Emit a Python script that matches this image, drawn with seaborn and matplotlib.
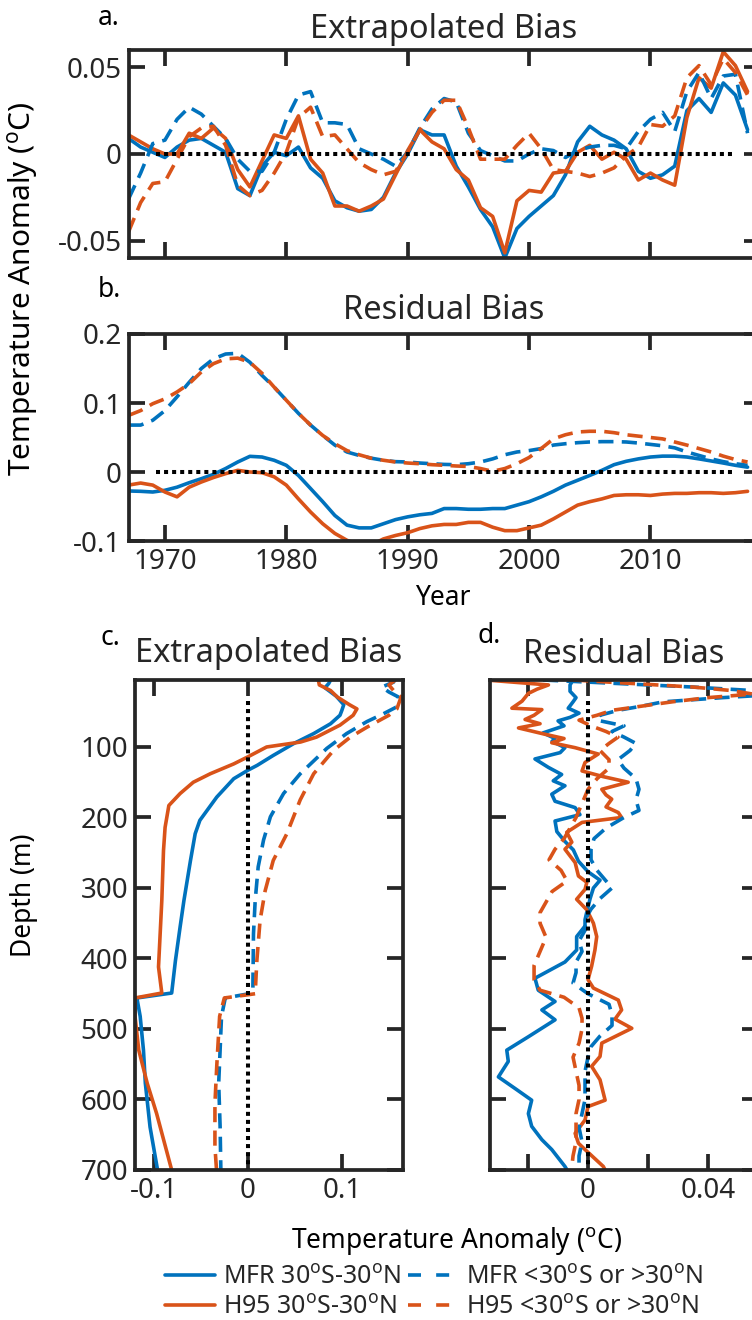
import numpy as np
import pandas as pd
import matplotlib
matplotlib.use("Agg")
import matplotlib.pyplot as plt
from matplotlib.lines import Line2D
import seaborn as sns

# ---------------- data ----------------
years = list(range(1967, 2019))

# a. Extrapolated bias, time series (degC)
ext_mfr_trop = [0.009, 0.004, 0.001, -0.002, 0.004, 0.008, 0.009, 0.005, 0.001, -0.020,
                -0.024, -0.007, 0.001, -0.001, 0.004, -0.008, -0.014, -0.027, -0.031, -0.033,
                -0.032, -0.025, -0.011, 0.000, 0.014, 0.011, 0.011, -0.007, -0.019, -0.032,
                -0.042, -0.060, -0.043, -0.036, -0.030, -0.024, -0.012, 0.007, 0.016, 0.011,
                0.008, 0.003, -0.010, -0.014, -0.012, -0.007, 0.025, 0.032, 0.024, 0.041,
                0.034, 0.014]
ext_h95_trop = [0.011, 0.007, 0.003, 0.000, 0.000, 0.012, 0.009, 0.015, 0.009, -0.009,
                -0.019, -0.004, 0.011, 0.009, 0.022, -0.003, -0.011, -0.030, -0.030, -0.033,
                -0.030, -0.026, -0.012, 0.002, 0.014, 0.007, 0.003, -0.009, -0.015, -0.031,
                -0.036, -0.057, -0.027, -0.021, -0.022, -0.011, -0.010, 0.001, 0.005, -0.003,
                0.001, -0.003, -0.015, -0.011, -0.015, -0.018, 0.021, 0.044, 0.038, 0.059,
                0.051, 0.036]
ext_mfr_extra = [-0.026, -0.011, 0.006, 0.008, 0.020, 0.027, 0.023, 0.016, 0.009, -0.003,
                 -0.010, -0.010, 0.001, 0.020, 0.034, 0.036, 0.018, 0.018, 0.017, 0.003,
                 0.000, -0.003, -0.007, 0.001, 0.015, 0.026, 0.032, 0.030, 0.012, 0.002,
                 -0.001, -0.004, -0.004, 0.000, 0.003, 0.002, -0.002, 0.002, 0.004, 0.005,
                 0.005, 0.003, 0.013, 0.020, 0.024, 0.013, 0.036, 0.047, 0.032, 0.045,
                 0.046, 0.012]
ext_h95_extra = [-0.045, -0.028, -0.017, -0.016, -0.003, 0.010, 0.015, 0.016, 0.005, -0.018,
                 -0.024, -0.021, -0.011, 0.001, 0.021, 0.027, 0.010, 0.011, 0.003, -0.005,
                 -0.009, -0.012, -0.010, 0.001, 0.014, 0.024, 0.031, 0.031, 0.015, -0.003,
                 -0.003, -0.003, 0.005, 0.012, 0.003, -0.009, -0.010, -0.011, -0.013, -0.011,
                 -0.008, -0.001, 0.004, 0.017, 0.016, 0.022, 0.044, 0.051, 0.040, 0.055,
                 0.047, 0.034]

# b. Residual bias, time series (degC)
res_mfr_trop = [-0.0275, -0.028, -0.029, -0.0265, -0.022, -0.0155, -0.0097, -0.0034, 0.005, 0.0145,
                0.0227, 0.0217, 0.017, 0.0097, -0.005, -0.024, -0.043, -0.063, -0.077, -0.081,
                -0.081, -0.075, -0.069, -0.065, -0.062, -0.060, -0.053, -0.053, -0.054, -0.054,
                -0.053, -0.053, -0.048, -0.043, -0.036, -0.028, -0.019, -0.012, -0.005, 0.0024,
                0.0106, 0.0155, 0.019, 0.0217, 0.023, 0.023, 0.0217, 0.019, 0.016, 0.013,
                0.0097, 0.007]
res_h95_trop = [-0.019, -0.016, -0.019, -0.029, -0.036, -0.022, -0.0145, -0.008, -0.0024, 0.0024,
                0.000, -0.001, -0.007, -0.019, -0.039, -0.058, -0.075, -0.089, -0.099, -0.106,
                -0.106, -0.097, -0.092, -0.088, -0.082, -0.078, -0.076, -0.076, -0.073, -0.073,
                -0.080, -0.085, -0.085, -0.081, -0.077, -0.068, -0.058, -0.048, -0.043, -0.039,
                -0.034, -0.033, -0.033, -0.034, -0.032, -0.031, -0.031, -0.030, -0.030, -0.031,
                -0.030, -0.028]
res_mfr_extra = [0.068, 0.068, 0.075, 0.089, 0.109, 0.130, 0.150, 0.164, 0.171, 0.172,
                 0.159, 0.140, 0.123, 0.104, 0.085, 0.068, 0.053, 0.039, 0.029, 0.024,
                 0.020, 0.017, 0.015, 0.0145, 0.013, 0.012, 0.011, 0.0106, 0.012, 0.0145,
                 0.019, 0.025, 0.029, 0.031, 0.034, 0.039, 0.041, 0.0425, 0.0435, 0.044,
                 0.044, 0.0435, 0.042, 0.040, 0.038, 0.035, 0.029, 0.024, 0.019, 0.015,
                 0.012, 0.0097]
res_h95_extra = [0.082, 0.089, 0.099, 0.106, 0.116, 0.128, 0.145, 0.157, 0.164, 0.165,
                 0.159, 0.143, 0.123, 0.104, 0.085, 0.068, 0.053, 0.041, 0.031, 0.025,
                 0.020, 0.017, 0.0145, 0.013, 0.012, 0.0106, 0.0097, 0.0087, 0.008, 0.005,
                 0.001, 0.005, 0.012, 0.021, 0.034, 0.048, 0.054, 0.058, 0.059, 0.059,
                 0.057, 0.054, 0.052, 0.050, 0.048, 0.0435, 0.039, 0.034, 0.029, 0.023,
                 0.018, 0.0145]

# c. Extrapolated bias, depth profiles (depth m, degC)
cz_mfr_trop = [5, 10, 16, 28, 40, 48, 55, 67, 81, 95, 112, 126, 133, 145, 171, 204, 223, 261,
               318, 355, 403, 449, 456, 482, 530, 577, 639, 700]
cv_mfr_trop = [0.088, 0.086, 0.082, 0.094, 0.102, 0.100, 0.098, 0.088, 0.070, 0.049, 0.027,
               0.010, 0.000, -0.015, -0.033, -0.051, -0.056, -0.061, -0.068, -0.072, -0.077,
               -0.081, -0.118, -0.1145, -0.111, -0.109, -0.104, -0.096]
cz_h95_trop = [5, 12, 20, 29, 40, 46, 55, 69, 86, 93, 100, 114, 124, 138, 150, 166, 183, 214,
               247, 318, 412, 449, 456, 482, 530, 577, 620, 700]
cv_h95_trop = [0.075, 0.076, 0.088, 0.095, 0.108, 0.116, 0.112, 0.098, 0.073, 0.056, 0.020,
               0.000, -0.015, -0.040, -0.058, -0.072, -0.084, -0.088, -0.0897, -0.0915, -0.095,
               -0.0915, -0.120, -0.120, -0.116, -0.107, -0.097, -0.081]
cz_mfr_extra = [5, 8, 15, 22, 29, 43, 53, 64, 81, 102, 138, 166, 199, 232, 270, 318, 365, 449,
                456, 482, 530, 577, 638, 700]
cv_mfr_extra = [0.150, 0.155, 0.1425, 0.150, 0.160, 0.1585, 0.144, 0.1266, 0.105, 0.084,
                0.0557, 0.038, 0.024, 0.0167, 0.011, 0.0078, 0.006, 0.0053, -0.024, -0.028,
                -0.0295, -0.031, -0.0295, -0.0287]
cz_h95_extra = [5, 12, 20, 29, 46, 55, 72, 86, 105, 138, 175, 223, 261, 304, 346, 403, 450,
                456, 482, 551, 606, 667, 700]
cv_h95_extra = [0.157, 0.150, 0.155, 0.163, 0.1585, 0.150, 0.1266, 0.109, 0.091, 0.070,
                0.0557, 0.0415, 0.027, 0.0184, 0.013, 0.0096, 0.0078, -0.025, -0.030, -0.033,
                -0.035, -0.035, -0.0333]

# d. Residual bias, depth profiles (depth m, degC)
dz_mfr_trop = [5, 12, 21, 30, 36, 45, 52, 58, 63, 70, 80, 88, 92, 101, 108, 117, 129, 139, 148,
               155, 167, 177, 186, 196, 205, 220, 234, 246, 262, 277, 289, 300, 315, 334, 345,
               354, 369, 388, 405, 428, 445, 461, 473, 487, 511, 530, 546, 568, 586, 601, 620,
               638, 657, 671, 695, 700]
dv_mfr_trop = [-0.005, -0.006, -0.006, -0.004, -0.005, -0.0066, -0.003, -0.006, -0.010, -0.008,
               -0.015, -0.011, -0.012, -0.0077, -0.0093, -0.0177, -0.0132, -0.0088, -0.0116,
               -0.0077, -0.0121, -0.011, -0.0043, -0.0027, -0.011, -0.0104, -0.0077, -0.0049,
               -0.0032, 0.000, 0.004, 0.0018, 0.0007, -0.0004, -0.001, -0.001, -0.0038, -0.0038,
               -0.0077, -0.0177, -0.0166, -0.011, -0.0154, -0.011, -0.0199, -0.0271, -0.0266,
               -0.0299, -0.0238, -0.0188, -0.0199, -0.0188, -0.0154, -0.0121, -0.0077, -0.007]
dz_h95_trop = [5, 12, 18, 24, 35, 45, 47, 55, 61, 67, 73, 82, 88, 94, 101, 110, 122, 134, 142,
               150, 160, 168, 174, 185, 193, 200, 207, 221, 235, 245, 264, 283, 292, 302, 316,
               331, 350, 369, 388, 411, 430, 442, 459, 473, 486, 499, 520, 539, 553, 572, 601,
               610, 629, 648, 662, 671, 695, 700]
dv_h95_trop = [-0.034, -0.0132, -0.017, -0.0199, -0.022, -0.0254, -0.0154, -0.018, -0.021,
               -0.016, -0.0232, -0.0143, -0.008, -0.0121, -0.0043, 0.0034, -0.001, -0.002, 0.005,
               0.0134, 0.0046, 0.006, 0.0079, 0.006, 0.0101, 0.0112, -0.002, -0.0071, -0.0054,
               -0.0077, -0.0043, -0.0032, -0.0004, -0.001, -0.0038, -0.0004, 0.0018, 0.0029,
               0.0023, 0.0012, 0.000, 0.0018, 0.0101, 0.0112, 0.009, 0.0146, 0.0046, 0.004,
               0.0012, 0.004, 0.0057, 0.000, -0.001, -0.0043, -0.0032, -0.001, 0.0051, 0.0057]
dz_mfr_extra = [5, 10, 15, 20, 25, 30, 36, 42, 48, 55, 62, 70, 78, 86, 95, 105, 118, 130, 145,
                160, 175, 190, 200, 215, 230, 245, 260, 275, 290, 300, 315, 330, 345, 360, 375,
                390, 405, 420, 435, 450, 465, 480, 495, 510, 525, 540, 560, 580, 600, 620, 640,
                660, 680, 700]
dv_mfr_extra = [-0.015, 0.010, 0.035, 0.055, 0.065, 0.045, 0.025, 0.018, 0.010, 0.004, 0.003,
                0.012, 0.008, 0.012, 0.016, 0.014, 0.010, 0.012, 0.016, 0.017, 0.016, 0.017,
                0.012, 0.006, 0.002, 0.001, 0.001, 0.003, 0.006, 0.008, 0.004, 0.001, -0.001,
                -0.001, -0.003, -0.002, -0.004, -0.004, -0.005, 0.000, 0.007, 0.008, 0.008,
                0.004, 0.001, 0.000, -0.001, -0.001, -0.001, -0.002, -0.003, -0.002, -0.003,
                -0.003]
dz_h95_extra = [5, 10, 15, 20, 25, 30, 36, 42, 48, 55, 62, 70, 78, 86, 95, 105, 118, 130, 145,
                160, 180, 200, 215, 230, 245, 260, 275, 290, 305, 320, 335, 350, 370, 390, 410,
                430, 445, 455, 470, 485, 500, 520, 540, 560, 580, 600, 620, 640, 660, 680, 700]
dv_h95_extra = [-0.005, 0.015, 0.035, 0.048, 0.055, 0.040, 0.028, 0.018, 0.008, 0.003, -0.003,
                0.001, 0.006, 0.010, 0.007, 0.004, 0.007, 0.007, 0.003, 0.000, -0.002, -0.004,
                -0.006, -0.008, -0.011, -0.013, -0.009, -0.007, -0.012, -0.014, -0.016, -0.016,
                -0.014, -0.016, -0.018, -0.018, -0.016, -0.008, -0.003, -0.002, -0.002, -0.003,
                -0.005, -0.004, -0.003, -0.003, -0.004, -0.004, -0.004, -0.005, -0.0055]

series_labels = ["MFR 30$^{\\rm o}$S-30$^{\\rm o}$N",
                 "H95 30$^{\\rm o}$S-30$^{\\rm o}$N",
                 "MFR <30$^{\\rm o}$S or >30$^{\\rm o}$N",
                 "H95 <30$^{\\rm o}$S or >30$^{\\rm o}$N"]

# ---------------- style ----------------
sns.set_theme(style="white")
plt.rcParams["font.family"] = ["Noto Sans", "DejaVu Sans"]
plt.rcParams["mathtext.fontset"] = "custom"
plt.rcParams["mathtext.rm"] = "Noto Sans"
plt.rcParams["mathtext.it"] = "Noto Sans:italic"
plt.rcParams["mathtext.bf"] = "Noto Sans:bold"
plt.rcParams["axes.unicode_minus"] = False

BLUE = "#0072BD"
ORANGE = "#D95319"
FRAME = "#262626"
LW = 2.6
DASH = (0, (4.2, 2.3))
LEGEND_DASH = (0, (3.6, 4.2))
DOT = (0, (1.0, 1.0))

fig = plt.figure(figsize=(7.52, 13.2), dpi=100)
W, H = 752.0, 1320.0


def px_axes(left, top, right, bottom):
    return fig.add_axes([left / W, 1 - bottom / H, (right - left) / W, (bottom - top) / H])


def style_axes(ax):
    for s in ax.spines.values():
        s.set_visible(True)
        s.set_color(FRAME)
        s.set_linewidth(2.7)
    ax.tick_params(direction="in", length=11.5, width=2.7, color=FRAME,
                   top=True, right=True, bottom=True, left=True,
                   labelsize=20, labelcolor=FRAME, pad=5)
    ax.grid(False)
    ax.set_xlabel("")
    ax.set_ylabel("")


def time_panel(ax, s1, s2, s3, s4):
    df = pd.DataFrame({"year": years, "s1": s1, "s2": s2, "s3": s3, "s4": s4})
    sns.lineplot(data=df, x="year", y="s1", ax=ax, color=BLUE, lw=LW)
    sns.lineplot(data=df, x="year", y="s2", ax=ax, color=ORANGE, lw=LW)
    sns.lineplot(data=df, x="year", y="s3", ax=ax, color=BLUE, lw=LW, linestyle=DASH)
    sns.lineplot(data=df, x="year", y="s4", ax=ax, color=ORANGE, lw=LW, linestyle=DASH)
    ax.plot([1969.3, 2016.8], [0, 0], color="black", lw=2.9, linestyle=DOT)
    ax.set_xlim(1967, 2019)
    ax.set_xticks([1970, 1980, 1990, 2000, 2010])


def depth_panel(ax, profiles):
    for z, v, col, ls in profiles:
        df = pd.DataFrame({"depth": z, "val": v})
        sns.lineplot(data=df, x="val", y="depth", ax=ax, color=col, lw=LW,
                     linestyle=ls, sort=False, estimator=None, orient="y")
    ax.plot([0, 0], [35, 700], color="black", lw=2.9, linestyle=DOT)
    ax.set_ylim(700, 5)
    ax.set_yticks([100, 200, 300, 400, 500, 600, 700])


# a. Extrapolated bias (time)
ax_a = px_axes(128.5, 50, 759.7, 258)
time_panel(ax_a, ext_mfr_trop, ext_h95_trop, ext_mfr_extra, ext_h95_extra)
ax_a.set_ylim(-0.06, 0.06)
ax_a.set_yticks([-0.05, 0, 0.05], ["-0.05", "0", "0.05"])
style_axes(ax_a)
ax_a.tick_params(labelbottom=False)
ax_a.set_title("Extrapolated Bias", fontsize=23.5, pad=9)

# b. Residual bias (time)
ax_b = px_axes(128.5, 334, 759.7, 541)
time_panel(ax_b, res_mfr_trop, res_h95_trop, res_mfr_extra, res_h95_extra)
ax_b.set_ylim(-0.1, 0.2)
ax_b.set_yticks([-0.1, 0, 0.1, 0.2], ["-0.1", "0", "0.1", "0.2"])
style_axes(ax_b)
ax_b.set_title("Residual Bias", fontsize=23.5, pad=11)

# c. Extrapolated bias (depth)
ax_c = px_axes(135, 680, 403, 1170)
depth_panel(ax_c, [(cz_mfr_trop, cv_mfr_trop, BLUE, "-"),
                   (cz_h95_trop, cv_h95_trop, ORANGE, "-"),
                   (cz_mfr_extra, cv_mfr_extra, BLUE, DASH),
                   (cz_h95_extra, cv_h95_extra, ORANGE, DASH)])
ax_c.set_xlim(-0.12, 0.165)
ax_c.set_xticks([-0.1, 0, 0.1], ["-0.1", "0", "0.1"])
style_axes(ax_c)
ax_c.set_title("Extrapolated Bias", fontsize=23.5, pad=13)

# d. Residual bias (depth)
ax_d = px_axes(490, 680, 758, 1170)
depth_panel(ax_d, [(dz_mfr_trop, dv_mfr_trop, BLUE, "-"),
                   (dz_h95_trop, dv_h95_trop, ORANGE, "-"),
                   (dz_mfr_extra, dv_mfr_extra, BLUE, DASH),
                   (dz_h95_extra, dv_h95_extra, ORANGE, DASH)])
ax_d.set_xlim(-0.0327, 0.0567)
ax_d.set_xticks([-0.02, 0, 0.02, 0.04], ["", "0", "", "0.04"])
style_axes(ax_d)
ax_d.tick_params(labelleft=False)
ax_d.set_title("Residual Bias", fontsize=23.5, pad=12)

# panel letters and shared labels
for letter, x, y in [("a.", 98, 25), ("b.", 98, 297), ("c.", 100, 645), ("d.", 478, 643)]:
    fig.text(x / W, 1 - y / H, letter, fontsize=19, color="black", va="baseline", ha="left")

fig.text(24 / W, 1 - 289 / H, "Temperature Anomaly ($^{\\rm o}$C)", rotation=90,
         fontsize=21.5, ha="center", va="center", color="black")
fig.text(443 / W, 1 - 598 / H, "Year", fontsize=19, ha="center", va="center", color="black")
fig.text(24 / W, 1 - 895 / H, "Depth (m)", rotation=90, fontsize=19,
         ha="center", va="center", color="black")
fig.text(456 / W, 1 - 1241 / H, "Temperature Anomaly ($^{\\rm o}$C)", fontsize=19,
         ha="center", va="center", color="black")

handles = [Line2D([], [], color=BLUE, lw=LW),
           Line2D([], [], color=ORANGE, lw=LW),
           Line2D([], [], color=BLUE, lw=LW, linestyle=LEGEND_DASH),
           Line2D([], [], color=ORANGE, lw=LW, linestyle=LEGEND_DASH)]
fig.legend(handles, [series_labels[0], series_labels[1], series_labels[2], series_labels[3]],
           ncol=2, loc="center", bbox_to_anchor=(434 / W, 1 - 1292 / H),
           frameon=False, fontsize=18, handlelength=2.0, handletextpad=0.3,
           columnspacing=0.3, labelspacing=0.2, borderpad=0.0, borderaxespad=0.0)

fig.savefig("out.png", dpi=100)
